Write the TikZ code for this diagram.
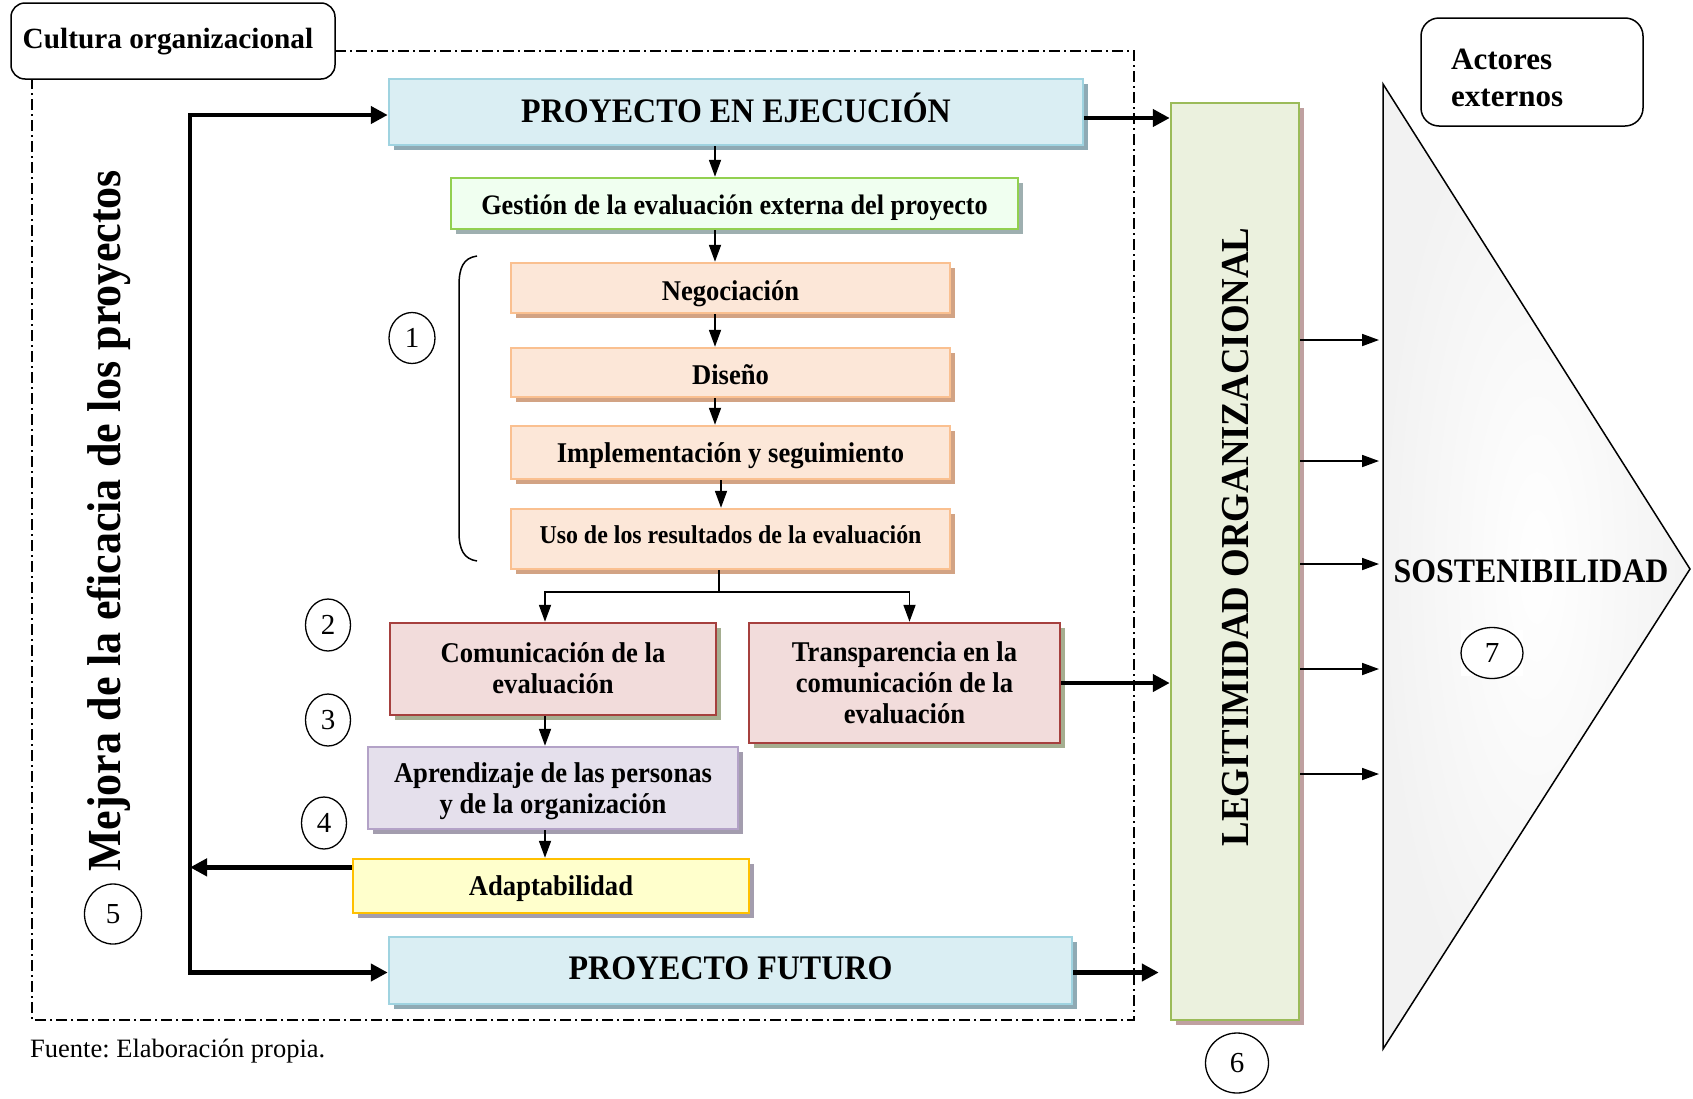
\documentclass[tikz,border=0pt]{standalone}
\usepackage{fontspec}
\setmainfont{Liberation Serif}
\newfontfamily\cf[FakeStretch=0.93]{Liberation Serif}
\usetikzlibrary{arrows.meta,shadows,calc,shapes.geometric}
\newcommand\fsz[2]{\fontsize{#1}{#2}\selectfont}
\newcommand\dn[2]{\raisebox{-#1pt}[\height][\depth]{#2}}
\newcommand\up[2]{\raisebox{#1pt}[\height][\depth]{#2}}
\definecolor{peeF}{HTML}{DAEEF3}\definecolor{peeD}{HTML}{9FD3E0}\definecolor{peeS}{HTML}{8FAAB4}
\definecolor{gesF}{HTML}{F0FFF0}\definecolor{gesD}{HTML}{92D050}\definecolor{gesS}{HTML}{9EAFB0}
\definecolor{neF}{HTML}{FCE7D8}\definecolor{neD}{HTML}{FAC090}\definecolor{neS}{HTML}{D2A384}
\definecolor{coF}{HTML}{F2DCDB}\definecolor{coD}{HTML}{A6403E}\definecolor{coS}{HTML}{A5AE90}
\definecolor{apF}{HTML}{E5E0EC}\definecolor{apD}{HTML}{B3A2C7}\definecolor{apS}{HTML}{A39DAE}
\definecolor{adF}{HTML}{FFFFCC}\definecolor{adD}{HTML}{FFC000}\definecolor{adS}{HTML}{A39DAE}
\definecolor{leF}{HTML}{EBF1DE}\definecolor{leD}{HTML}{9BBB59}\definecolor{leS}{HTML}{BFA0A0}
\frenchspacing
\begin{document}
\begin{tikzpicture}[x=1pt,y=-1pt,
  box/.style={draw, line width=2.5pt, align=center, inner sep=0pt, font=\cf\bfseries\fsz{28.6}{31}},
  shad/.style={general shadow={fill=#1, shadow xshift=5pt, shadow yshift=-5pt}},
  arr/.style={line width=1.8pt, -{Triangle[length=17pt,width=12pt]}},
  tarr/.style={line width=4.5pt, -{Triangle[length=17pt,width=17pt]}},
  circ/.style={draw, ellipse, line width=1.3pt, inner sep=0pt, font=\fsz{29}{32}},
  frame/.style={line width=1.5pt, dash pattern=on 11pt off 4pt on 2pt off 4pt},
  rbox/.style={draw, line width=1.5pt, rounded corners=14pt}]
\useasboundingbox (0,0) rectangle (1693,1098);
% frame
\draw[frame] (335,51) -- (1134,51) -- (1134,1020) -- (32,1020) -- (32,79);
\node[rbox, minimum width=324pt, minimum height=76pt] (cult) at (173,41) {};
\node[font=\bfseries\fsz{29.3}{32}] (cultt) at (168,42) {Cultura organizacional};
% main boxes
\node[box, fill=peeF, draw=peeD, shad=peeS, minimum width=694pt, minimum height=66pt, font=\cf\bfseries\fsz{34.4}{38}] (pee) at (736,112) {\up{4}{PROYECTO EN EJECUCIÓN}};
\node[box, fill=gesF, draw=gesD, shad=gesS, minimum width=567pt, minimum height=51pt, font=\cf\bfseries\fsz{28.2}{31}] (ges) at (734.5,203.5) {\dn{4}{Gestión de la evaluación externa del proyecto}};
\node[box, fill=neF, draw=neD, shad=neS, minimum width=439pt, minimum height=50pt] (neg) at (730.5,288) {\dn{6}{Negociación}};
\node[box, fill=neF, draw=neD, shad=neS, minimum width=439pt, minimum height=49pt] (dis) at (730.5,372.5) {\dn{2}{Diseño}};
\node[box, fill=neF, draw=neD, shad=neS, minimum width=439pt, minimum height=53pt] (imp) at (730.5,452.5) {\dn{3}{Implementación y seguimiento}};
\node[box, fill=neF, draw=neD, shad=neS, minimum width=439pt, minimum height=60pt, font=\cf\bfseries\fsz{25.7}{29}] (uso) at (730.5,539) {\up{4}{Uso de los resultados de la evaluación}};
\node[box, fill=coF, draw=coD, shad=coS, minimum width=326pt, minimum height=92pt] (com) at (553,669) {\dn{3}{\begin{tabular}{@{}c@{}}Comunicación de la\\evaluación\end{tabular}}};
\node[box, fill=coF, draw=coD, shad=coS, minimum width=311pt, minimum height=120pt] (tra) at (904.5,683) {Transparencia en la\\comunicación de la\\evaluación};
\node[box, fill=apF, draw=apD, shad=apS, minimum width=370pt, minimum height=82pt] (apr) at (553,788) {\dn{4}{\begin{tabular}{@{}c@{}}Aprendizaje de las personas\\y de la organización\end{tabular}}};
\node[box, fill=adF, draw=adD, shad=adS, minimum width=396pt, minimum height=54pt] (ada) at (551,886) {\dn{3}{Adaptabilidad}};
\node[box, fill=peeF, draw=peeD, shad=peeS, minimum width=683pt, minimum height=67pt, font=\cf\bfseries\fsz{34.4}{38}] (pf) at (730.5,970.5) {\up{2}{PROYECTO FUTURO}};
\node[box, fill=leF, draw=leD, shad=leS, minimum width=128pt, minimum height=917pt] (leg) at (1235,561.5) {};
\node[rotate=90, font=\cf\bfseries\fsz{39.6}{44}] (legt) at (1236,537) {LEGITIMIDAD ORGANIZACIONAL};
% vertical title
\node[rotate=90, font=\cf\bfseries\fsz{47.4}{52}] (mej) at (109,521) {Mejora de la eficacia de los proyectos};
% sustainability
\shade[inner color=white, outer color=black!5] (1383,84) -- (1690,569) -- (1383,1049) -- cycle;
\draw[line width=1.5pt, line join=miter] (1383,84) -- (1690,569) -- (1383,1049) -- cycle;
\node[font=\cf\bfseries\fsz{34.3}{38}] (sos) at (1531,571) {SOSTENIBILIDAD};
\fill[white] (1461,630) rectangle (1523,676);
\node[circ, minimum width=62pt, minimum height=51pt] (c7) at (1492,653) {7};
\node[rbox, minimum width=222pt, minimum height=108pt, rounded corners=18pt] (act) at (1532,72) {};
\node[anchor=west, align=left, inner sep=0pt, font=\bfseries\fsz{31}{37}] (actt) at (1451,77.5) {Actores\\externos};
% circles
\node[circ, minimum width=46pt, minimum height=51pt] (c1) at (412,338) {1};
\node[circ, minimum width=45pt, minimum height=52pt] (c2) at (328,625) {2};
\node[circ, minimum width=45pt, minimum height=52pt] (c3) at (328,720) {3};
\node[circ, minimum width=45pt, minimum height=52pt] (c4) at (324,823) {4};
\node[circ, minimum width=57pt, minimum height=60pt] (c5) at (113,914) {5};
\node[circ, minimum width=63pt, minimum height=60pt] (c6) at (1237,1063) {6};
% brace
\draw[line width=1.5pt] (477,256) .. controls (463,258) and (459,268) .. (459,286) -- (459,532) .. controls (459,550) and (464,559) .. (477,561);
% flow arrows
\coordinate (ax) at (715,0);
\coordinate (ax2) at (721,0);
\coordinate (bx) at (545,0);
\draw[arr] (pee.south -| ax) -- (ges.north -| ax);
\draw[arr] (ges.south -| ax) -- (neg.north -| ax);
\draw[arr] (neg.south -| ax) -- (dis.north -| ax);
\draw[arr] (dis.south -| ax) -- (imp.north -| ax);
\draw[arr] (imp.south -| ax2) -- (uso.north -| ax2);
\coordinate (bj) at (719,592);
\draw[line width=1.8pt] (uso.south -| bj) -- (bj);
\draw[arr] (bj) -| (com.north -| bx);
\draw[arr] (bj) -| ($(tra.north)+(5,0)$);
\draw[arr] (com.south -| bx) -- (apr.north -| bx);
\draw[arr] (apr.south -| bx) -- (ada.north -| bx);
% trunk
\coordinate (tx) at (190,0);
\coordinate (aw) at ($(ada.north west)!0.17!(ada.south west)$);
\draw[tarr] (aw) -- (aw -| tx);
\draw[line width=4.5pt, {Triangle[length=17pt,width=17pt]}-{Triangle[length=17pt,width=17pt]}] ([yshift=-3pt]pee.west) -- ([yshift=-3pt]pee.west -| tx) -- ([yshift=-2pt]pf.west -| tx) -- ([yshift=-2pt]pf.west);
% to legitimacy
\draw[tarr] ([yshift=-6pt]pee.east) -- ([yshift=-6pt]pee.east -| leg.west);
\draw[tarr] (tra.east) -- (tra.east -| leg.west);
\draw[tarr, shorten >=11pt] ([yshift=-2pt]pf.east) -- ([yshift=-2pt]pf.east -| leg.west);
% legitimacy to sustainability
\foreach \yy [count=\i] in {340,461,564,669,774}{
  \coordinate (s\i) at (1379,\yy);
  \draw[arr] (leg.east |- s\i) -- (s\i);
}
\node[anchor=west, inner sep=0pt, font=\fsz{26.5}{30}] (fue) at (30,1051) {Fuente: Elaboración propia.};
\end{tikzpicture}
\end{document}
